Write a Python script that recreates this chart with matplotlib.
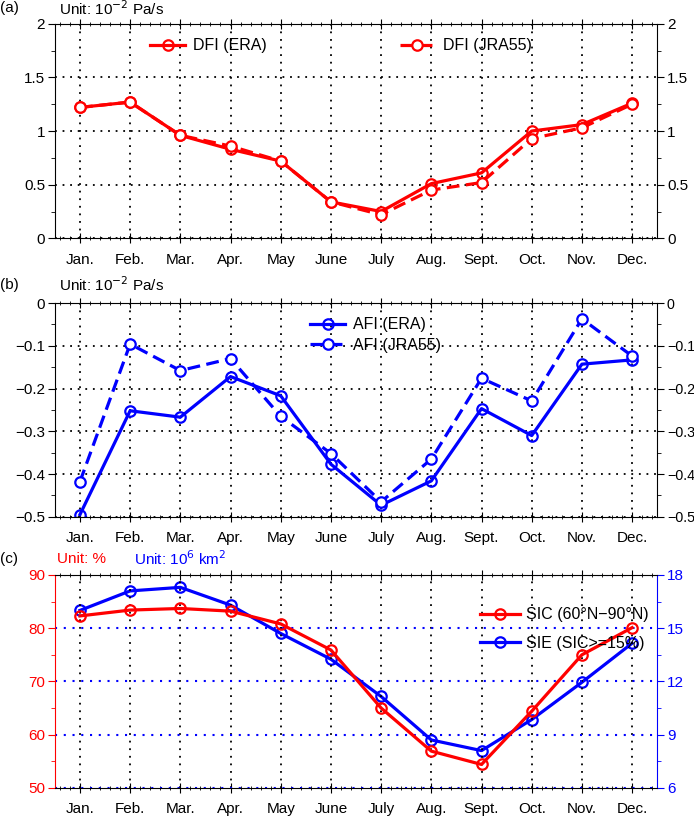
import matplotlib
matplotlib.use("Agg")
import matplotlib.pyplot as plt
from matplotlib.ticker import MultipleLocator

plt.rcParams['font.family'] = ['Liberation Sans', 'DejaVu Sans']
plt.rcParams['font.size'] = 11

months = ["Jan.", "Feb.", "Mar.", "Apr.", "May", "June",
          "July", "Aug.", "Sept.", "Oct.", "Nov.", "Dec."]
x = list(range(1, 13))

dfi_era = [1.22, 1.27, 0.96, 0.83, 0.72, 0.34, 0.25, 0.51, 0.61, 1.00, 1.06, 1.26]
dfi_jra = [1.22, 1.27, 0.96, 0.86, 0.72, 0.34, 0.22, 0.45, 0.52, 0.93, 1.03, 1.25]

afi_era = [-0.495, -0.252, -0.267, -0.172, -0.217, -0.377,
           -0.473, -0.416, -0.247, -0.310, -0.143, -0.133]
afi_jra = [-0.418, -0.096, -0.158, -0.130, -0.265, -0.352,
           -0.465, -0.365, -0.176, -0.229, -0.037, -0.124]

sic = [82.3, 83.4, 83.7, 83.2, 80.8, 75.9, 65.0, 56.9, 54.4, 64.4, 75.0, 80.1]
sie = [16.0, 17.1, 17.3, 16.3, 14.7, 13.25, 11.15, 8.7, 8.1, 9.85, 11.95, 14.15]

DOT = (0, (1, 3.2))
LW = 2.3
MS = 7.5
MEW = 1.6


def style_x(ax):
    ax.set_xlim(0.5, 12.5)
    ax.set_xticks(x)
    ax.set_xticklabels(months)
    ax.xaxis.set_minor_locator(MultipleLocator(0.2))
    ax.tick_params(axis='x', which='major', direction='inout', length=7,
                   top=True, bottom=True, pad=7)
    ax.tick_params(axis='x', which='minor', direction='inout', length=3,
                   top=True, bottom=True)
    ax.grid(axis='x', which='major', linestyle=DOT, color='k', lw=1.3)


def style_y(ax, ticks, minor):
    ax.set_yticks(ticks)
    ax.yaxis.set_minor_locator(MultipleLocator(minor))
    ax.tick_params(axis='y', which='major', direction='out', length=5,
                   left=True, right=True, labelright=True, pad=2)
    ax.tick_params(axis='y', which='minor', direction='out', length=3,
                   left=True, right=True)
    ax.grid(axis='y', which='major', linestyle=DOT, color='k', lw=1.3)


fig = plt.figure(figsize=(6.94, 8.19), dpi=100)
L, W = 0.079, 0.868

# (a)
ax1 = fig.add_axes([L, 0.709, W, 0.262])
ax1.plot(x, dfi_era, '-o', color='red', lw=LW, ms=MS, mew=MEW,
         mfc='none', label='DFI (ERA)')
ax1.plot(x, dfi_jra, '--o', color='red', lw=LW, ms=MS, mew=MEW,
         mfc='white', dashes=(4, 2), label='DFI (JRA55)')
ax1.set_ylim(0, 2)
style_x(ax1)
style_y(ax1, [0, 0.5, 1, 1.5, 2], 0.25)
ax1.set_yticklabels(['0', '0.5', '1', '1.5', '2'])
ax1.legend(loc='upper center', bbox_to_anchor=(0.475, 1.0), ncol=2,
           frameon=False, handlelength=2.2, columnspacing=8.3,
           handletextpad=0.5, fontsize=11.5)
fig.text(0.0, 0.990, '(a)', ha='left', va='center', fontsize=11)
fig.text(0.085, 0.990, 'Unit: 10$^{-2}$ Pa/s', ha='left', va='center', fontsize=11)

# (b)
ax2 = fig.add_axes([L, 0.369, W, 0.261])
ax2.plot(x, afi_era, '-o', color='blue', lw=LW, ms=MS, mew=MEW,
         mfc='none', label='AFI (ERA)')
ax2.plot(x, afi_jra, '--o', color='blue', lw=LW, ms=MS, mew=MEW,
         mfc='white', dashes=(4, 2), label='AFI (JRA55)')
ax2.set_ylim(-0.5, 0)
style_x(ax2)
style_y(ax2, [-0.5, -0.4, -0.3, -0.2, -0.1, 0], 0.05)
ax2.set_yticklabels(['\u22120.5', '\u22120.4', '\u22120.3', '\u22120.2', '\u22120.1', '0'])
for t in ax2.yaxis.get_major_ticks():
    t.label2.set_fontsize(10.3)
ax2.legend(loc='upper left', bbox_to_anchor=(0.40, 1.0), ncol=1,
           frameon=False, handlelength=2.2, handletextpad=0.5,
           labelspacing=0.35, fontsize=11.5)
fig.text(0.0, 0.652, '(b)', ha='left', va='center', fontsize=11)
fig.text(0.085, 0.652, 'Unit: 10$^{-2}$ Pa/s', ha='left', va='center', fontsize=11)

# (c)
ax3 = fig.add_axes([L, 0.038, W, 0.260])
ax4 = ax3.twinx()
ax3.set_zorder(ax4.get_zorder() + 1)
ax3.patch.set_visible(False)

l1, = ax3.plot(x, sic, '-o', color='red', lw=LW, ms=MS, mew=MEW,
               mfc='none', label='SIC (60\u00b0N\u221290\u00b0N)')
l2, = ax4.plot(x, sie, '-o', color='blue', lw=LW, ms=MS, mew=MEW,
               mfc='none', label='SIE (SIC>=15%)')
ax3.set_ylim(50, 90)
ax4.set_ylim(6, 18)
style_x(ax3)
ax3.set_yticks([50, 60, 70, 80, 90])
ax3.yaxis.set_minor_locator(MultipleLocator(5))
ax3.tick_params(axis='y', which='major', direction='out', length=5,
                colors='red', right=False, pad=2)
ax3.tick_params(axis='y', which='minor', direction='out', length=3,
                colors='red', right=False)
ax3.grid(axis='y', which='major', linestyle=DOT, color='blue', lw=1.5)
ax3.spines['left'].set_color('red')
ax3.spines['right'].set_visible(False)

ax4.set_yticks([6, 9, 12, 15, 18])
ax4.yaxis.set_minor_locator(MultipleLocator(1.5))
ax4.tick_params(axis='y', which='major', direction='out', length=5,
                colors='blue', pad=2)
ax4.tick_params(axis='y', which='minor', direction='out', length=3, colors='blue')
ax4.spines['right'].set_color('blue')
ax4.spines['left'].set_visible(False)
ax4.spines['top'].set_visible(False)
ax4.spines['bottom'].set_visible(False)

ax3.legend(handles=[l1, l2], loc='upper right', bbox_to_anchor=(1.01, 0.915),
           frameon=False, handlelength=2.5, handletextpad=0.4,
           labelspacing=0.85, fontsize=11.5)
fig.text(0.0, 0.318, '(c)', ha='left', va='center', fontsize=11)
fig.text(0.082, 0.318, 'Unit: %', ha='left', va='center', fontsize=11, color='red')
fig.text(0.193, 0.318, 'Unit: 10$^{6}$ km$^{2}$', ha='left', va='center',
         fontsize=11, color='blue')

fig.savefig('out.png', dpi=100)
